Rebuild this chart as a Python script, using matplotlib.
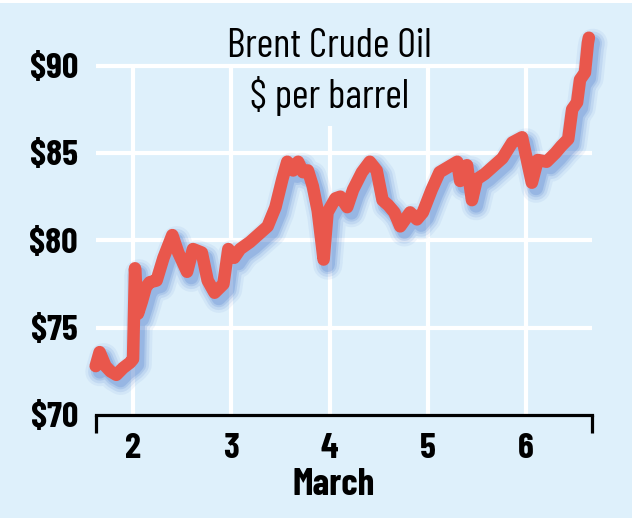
import matplotlib
matplotlib.use('Agg')
import matplotlib.pyplot as plt
import matplotlib.patheffects as pe
from matplotlib import font_manager
from matplotlib.patches import Rectangle

# Brent crude (day of March, $ per barrel)
days = [1.62, 1.66, 1.72, 1.77, 1.83, 1.90, 1.97, 2.00, 2.02, 2.05,
        2.09, 2.13, 2.17, 2.24, 2.31, 2.40, 2.46, 2.55, 2.61, 2.70,
        2.76, 2.83, 2.92, 2.97, 3.03, 3.09, 3.19, 3.29, 3.37, 3.45,
        3.52, 3.57, 3.63, 3.68, 3.73, 3.78, 3.83, 3.88, 3.94, 3.98,
        4.06, 4.11, 4.18, 4.24, 4.33, 4.41, 4.48, 4.54, 4.60, 4.66,
        4.72, 4.82, 4.89, 4.95, 5.04, 5.12, 5.21, 5.30, 5.33, 5.40,
        5.45, 5.50, 5.58, 5.66, 5.76, 5.86, 5.96, 6.01, 6.06, 6.12,
        6.21, 6.30, 6.36, 6.43, 6.47, 6.52, 6.55, 6.60, 6.63, 6.64]
price = [72.8, 73.6, 72.8, 72.5, 72.3, 72.7, 73.0, 73.2, 78.4, 75.8,
         76.5, 77.3, 77.6, 77.7, 79.0, 80.3, 79.3, 78.2, 79.5, 79.3,
         77.7, 77.0, 77.5, 79.5, 79.0, 79.5, 79.9, 80.4, 80.8, 81.9,
         83.5, 84.5, 84.0, 84.5, 83.9, 84.0, 83.1, 81.7, 78.9, 81.6,
         82.4, 82.5, 81.9, 82.9, 83.9, 84.5, 84.0, 82.3, 82.0, 81.6,
         80.8, 81.6, 81.2, 81.6, 82.9, 83.9, 84.2, 84.5, 83.4, 84.3,
         82.3, 83.5, 83.8, 84.2, 84.7, 85.6, 85.9, 84.6, 83.3, 84.6,
         84.5, 85.0, 85.4, 85.8, 87.5, 87.9, 89.2, 89.6, 91.3, 91.6]

xticks = [2, 3, 4, 5, 6]
xlabels = ['2', '3', '4', '5', '6']
yticks = [70, 75, 80, 85, 90]
ylabels = ['$70', '$75', '$80', '$85', '$90']

bg = '#def0fb'
red = '#e9574c'

# pick a narrow font if one is installed
names = set(f.name for f in font_manager.fontManager.ttflist)
font = 'DejaVu Sans'
for cand in ['Barlow Condensed', 'Roboto Condensed', 'Liberation Sans Narrow']:
    if cand in names:
        font = cand
        break
plt.rcParams['font.family'] = [font, 'DejaVu Sans']

fig = plt.figure(figsize=(6.34, 5.23), dpi=100)
fig.patch.set_facecolor('white')
fig.patches.append(Rectangle((0, 5 / 523), 632 / 634, 515 / 523,
                             transform=fig.transFigure, facecolor=bg,
                             edgecolor='none', zorder=-10))

ax = fig.add_axes([96 / 634, 108 / 523, 496 / 634, 393 / 523])
ax.patch.set_alpha(0)
ax.set_xlim(1.623, 6.672)
ax.set_ylim(70, 92.5)

# grid
ax.hlines(yticks[1:], 1.623, 6.672, color='white', lw=3, zorder=4)
ax.vlines(xticks, 70, 90, color='white', lw=3, zorder=1)

# line with soft blue shadow, down and to the right
effects = []
for w, a in [(12, 0.08), (8, 0.12), (4, 0.16), (1, 0.22)]:
    effects.append(pe.SimpleLineShadow(offset=(3, -4), shadow_color='#4a7acb',
                                       alpha=a, linewidth=9 + w))
effects.append(pe.Normal())
ax.plot(days, price, color=red, lw=9, solid_capstyle='round',
        solid_joinstyle='round', zorder=6, path_effects=effects, clip_on=False)

for s in ['top', 'right', 'left']:
    ax.spines[s].set_visible(False)
ax.spines['bottom'].set_linewidth(2.3)
ax.spines['bottom'].set_color('black')
ax.vlines([1.623, 6.672], 68.95, 70, color='black', lw=2.3, clip_on=False, zorder=7)

ax.set_xticks(xticks)
ax.set_xticklabels(xlabels)
ax.set_yticks(yticks)
ax.set_yticklabels(ylabels)
ax.tick_params(length=0, labelsize=26)
ax.tick_params(axis='x', pad=13)
ax.tick_params(axis='y', pad=13)
for t in ax.get_xticklabels() + ax.get_yticklabels():
    t.set_fontweight('bold')

fig.text(334 / 634, 28 / 523, 'March', ha='center', va='baseline',
         fontsize=27, fontweight='bold')

ax.text(4, 90.52, 'Brent Crude Oil', ha='center', va='baseline', fontsize=29, zorder=5)
ax.text(4, 87.59, '$ per barrel', ha='center', va='baseline', fontsize=29, zorder=3,
        bbox=dict(boxstyle='square,pad=0.25', facecolor=bg, edgecolor='none'))

fig.savefig('out.png', dpi=100)
